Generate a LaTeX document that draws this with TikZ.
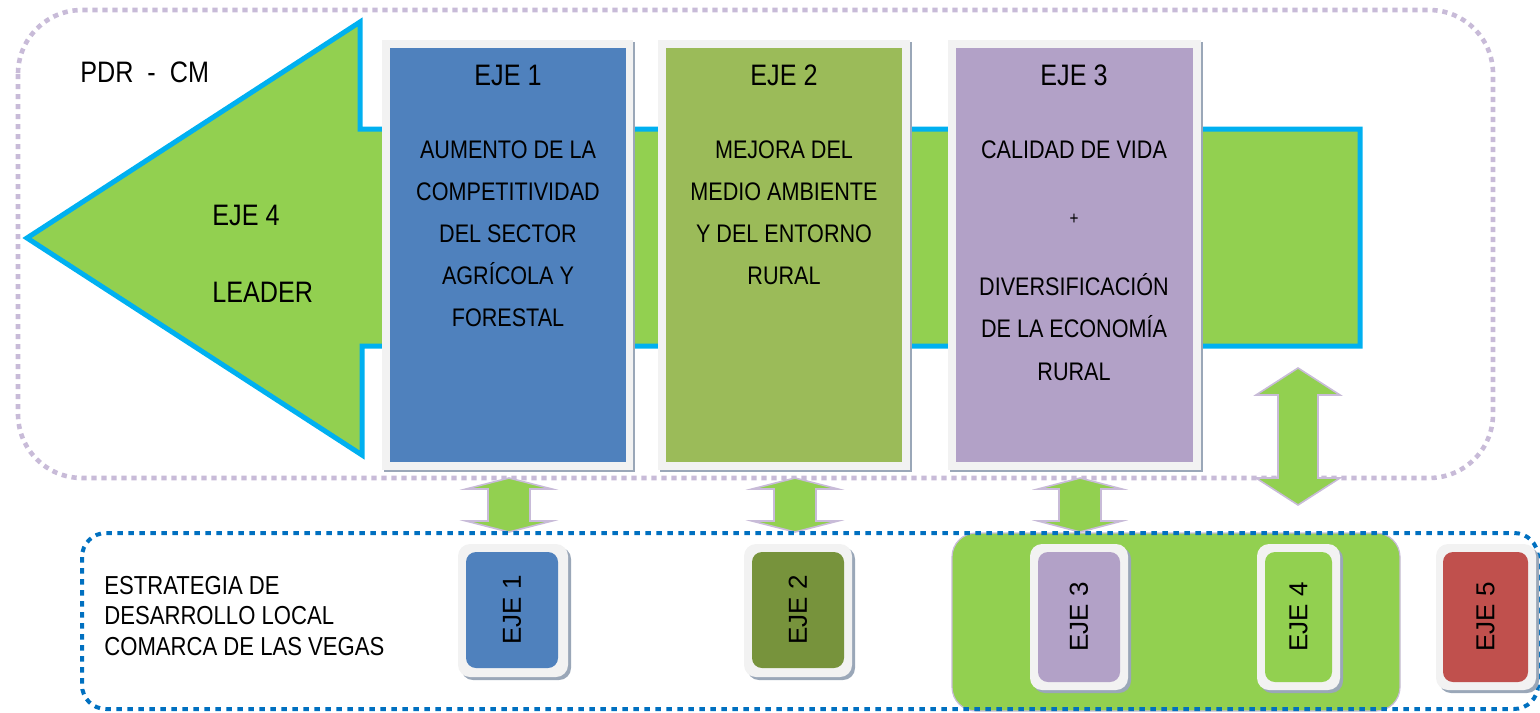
\documentclass[tikz,border=0pt]{standalone}
\usepackage{fontspec}
\setmainfont{Liberation Sans}[FakeStretch=0.85]
\newfontfamily\plainfont{Liberation Sans}
\definecolor{lav}{HTML}{C8BBD8}
\definecolor{lgreen}{HTML}{92D050}
\definecolor{cyanb}{HTML}{00B0F0}
\definecolor{blueb}{HTML}{4F81BD}
\definecolor{greenb}{HTML}{9BBB59}
\definecolor{purpleb}{HTML}{B2A1C7}
\definecolor{oliveb}{HTML}{77933C}
\definecolor{redb}{HTML}{C0504D}
\definecolor{framec}{HTML}{F2F2F2}
\definecolor{dblue}{HTML}{0070C0}
\definecolor{shadowc}{HTML}{9AA7B8}
\tikzset{
  body/.style={font=\fontsize{12.7}{15}\selectfont, inner sep=0pt, anchor=base},
  ttl/.style={font=\fontsize{14.8}{17}\selectfont, inner sep=0pt, anchor=base},
  vlab/.style={font=\plainfont\fontsize{13}{15}\selectfont, rotate=90, inner sep=0pt},
  lavdot/.style={draw=lav, line width=2.3pt, dash pattern=on 2.6pt off 2.4pt, rounded corners=32pt},
  bluedot/.style={draw=dblue, line width=2pt, dash pattern=on 2.8pt off 2.7pt, rounded corners=12pt},
  blockarrow/.style={fill=lgreen, draw=lav, line width=0.8pt},
  frameb/.style={fill=framec, draw=none},
  shadowb/.style={fill=shadowc, draw=none},
}
\begin{document}
\begin{tikzpicture}[x=0.5pt, y=-0.5pt]
\useasboundingbox (0,0) rectangle (1540,712);

% outer dotted frame
\draw[lavdot] (18,10) rectangle (1493,478);

% big arrow (EJE 4)
\draw[fill=lgreen, draw=cyanb, line width=2.5pt, line join=miter]
  (27,238) -- (360,22) -- (360,129) -- (1360,129) -- (1360,346) -- (362,346) -- (362,455) -- cycle;
\node[ttl, anchor=base west] (pdr) at (80,82) {PDR\ \ -\ \ CM};
\node[ttl, anchor=base west] (e4a) at (212,225) {EJE 4};
\node[ttl, anchor=base west] (e4b) at (212,302) {LEADER};

% top boxes
\fill[shadowb] (384,42) rectangle (635,472);
\fill[frameb] (382,40) rectangle (633,470);
\node[fill=blueb, inner sep=0pt, minimum width=118pt, minimum height=207pt] (b1) at (508,255) {};
\fill[shadowb] (660,42) rectangle (912,472);
\fill[frameb] (658,40) rectangle (910,470);
\node[fill=greenb, inner sep=0pt, minimum width=118pt, minimum height=207pt] (b2) at (784,255) {};
\fill[shadowb] (950,42) rectangle (1203,472);
\fill[frameb] (948,40) rectangle (1201,470);
\node[fill=purpleb, inner sep=0pt, minimum width=118.5pt, minimum height=207pt] (b3) at (1074.5,255) {};

\node[ttl] (h1) at (508,85) {EJE 1};
\node[ttl] (h2) at (784,85) {EJE 2};
\node[ttl] (h3) at (1074,85) {EJE 3};

\foreach \t [count=\i] in {AUMENTO DE LA, COMPETITIVIDAD, DEL SECTOR, AGRÍCOLA Y, FORESTAL}
  \node[body] (ta-\i) at (508, {158+(\i-1)*42}) {\t};
\foreach \t [count=\i] in {MEJORA DEL, MEDIO AMBIENTE, Y DEL ENTORNO, RURAL}
  \node[body] (tb-\i) at (784, {158+(\i-1)*42}) {\t};
\node[body] (tc-1) at (1074,158) {CALIDAD DE VIDA};
\node[font=\fontsize{9}{11}\selectfont, inner sep=0pt] (tc-plus) at (1074,219) {+};
\foreach \t [count=\i] in {DIVERSIFICACIÓN, DE LA ECONOMÍA, RURAL}
  \node[body] (td-\i) at (1074, {295+(\i-1)*42.5}) {\t};

% small double arrows
\draw[blockarrow] (509,478) -- (552,489) -- (530,489) -- (530,521) -- (552,521) -- (509,532)
  -- (466,521) -- (488,521) -- (488,489) -- (466,489) -- cycle;
\draw[blockarrow] (795,478) -- (838,489) -- (816,489) -- (816,521) -- (838,521) -- (795,532)
  -- (752,521) -- (774,521) -- (774,489) -- (752,489) -- cycle;
\draw[blockarrow] (1080,478) -- (1122,489) -- (1101,489) -- (1101,521) -- (1122,521) -- (1080,532)
  -- (1038,521) -- (1059,521) -- (1059,489) -- (1038,489) -- cycle;
% big right double arrow
\draw[blockarrow] (1298,368) -- (1340,395) -- (1318,395) -- (1318,478) -- (1340,478) -- (1298,505)
  -- (1256,478) -- (1278,478) -- (1278,395) -- (1256,395) -- cycle;

% bottom green group
\draw[fill=lgreen, draw=lav, line width=0.6pt, rounded corners=12pt] (952,533) rectangle (1400,711);

% bottom dotted frame
\draw[bluedot] (82,533) rectangle (1538,709);

\node[font=\fontsize{13}{15.5}\selectfont, inner sep=0pt, anchor=base west] (est1) at (104,594) {ESTRATEGIA DE};
\node[font=\fontsize{13}{15.5}\selectfont, inner sep=0pt, anchor=base west] (est2) at (104,624) {DESARROLLO LOCAL};
\node[font=\fontsize{13}{15.5}\selectfont, inner sep=0pt, anchor=base west] (est3) at (104,655) {COMARCA DE LAS VEGAS};

% small boxes
\fill[shadowb, rounded corners=6pt] (461,547) rectangle (571,680);
\fill[frameb, rounded corners=6pt] (458,544) rectangle (568,677);
\node[fill=blueb, rounded corners=5pt, inner sep=0pt, minimum width=46pt, minimum height=58pt] (s1) at (512,610) {};
\node[vlab] (s1t) at (s1.center) {EJE 1};

\fill[shadowb, rounded corners=6pt] (747,547) rectangle (855,680);
\fill[frameb, rounded corners=6pt] (744,544) rectangle (852,677);
\node[fill=oliveb, rounded corners=5pt, inner sep=0pt, minimum width=46pt, minimum height=58pt] (s2) at (798,610) {};
\node[vlab] (s2t) at (s2.center) {EJE 2};

\fill[shadowb, rounded corners=6pt] (1033,547) rectangle (1131,693);
\fill[frameb, rounded corners=6pt] (1030,544) rectangle (1128,690);
\node[fill=purpleb, rounded corners=5pt, inner sep=0pt, minimum width=41pt, minimum height=65pt] (s3) at (1079,617) {};
\node[vlab] (s3t) at (s3.center) {EJE 3};

\fill[shadowb, rounded corners=6pt] (1260,547) rectangle (1343,693);
\fill[frameb, rounded corners=6pt] (1257,544) rectangle (1340,690);
\node[fill=lgreen, rounded corners=5pt, inner sep=0pt, minimum width=33.5pt, minimum height=65pt] (s4) at (1298.5,617) {};
\node[vlab] (s4t) at (s4.center) {EJE 4};

\fill[shadowb, rounded corners=6pt] (1439,547) rectangle (1539,693);
\fill[frameb, rounded corners=6pt] (1436,544) rectangle (1536,690);
\node[fill=redb, rounded corners=5pt, inner sep=0pt, minimum width=42.5pt, minimum height=65pt] (s5) at (1485.5,617) {};
\node[vlab] (s5t) at (s5.center) {EJE 5};
\end{tikzpicture}
\end{document}
